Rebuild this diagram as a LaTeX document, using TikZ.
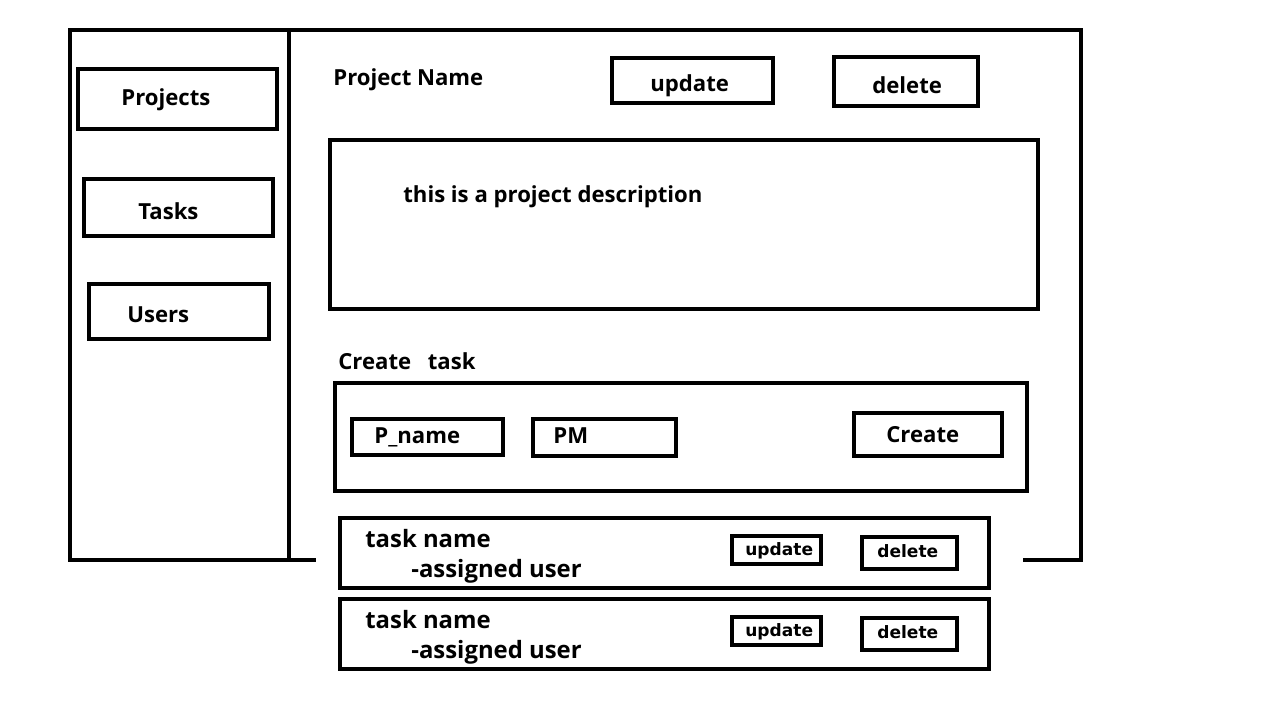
\documentclass[tikz,border=0pt]{standalone}
\usepackage{fontspec}
\setmainfont{Open Sans}
\newfontfamily\btnfont{DejaVu Sans}
\usepackage{tikz}
\usetikzlibrary{positioning}

\begin{document}
\begin{tikzpicture}[x=0.02cm,y=-0.02cm,
                    frame/.style={line width=2.6pt,line cap=rect},
                    box/.style={draw,line width=2.6pt,inner sep=0pt},
                    txt/.style={inner sep=0pt,anchor=base west,font=\fontsize{12.6}{15}\selectfont\bfseries},
                    row txt/.style={txt,font=\fontsize{13.6}{16}\selectfont\bfseries},
                    small txt/.style={inner sep=0pt,anchor=base west,font=\btnfont\fontsize{9.7}{11}\selectfont\bfseries}]

 \useasboundingbox (0,0) rectangle (1265,701);

 % outer frame and sidebar
 \draw[frame] (314,560) -- (70,560) -- (70,30) -- (1081,30) -- (1081,560) -- (1025,560);
 \draw[frame] (289,30) -- (289,560);

 % sidebar menu
 \node[box,minimum width=199*0.02cm,minimum height=60*0.02cm] (projects) at (177.5,99) {};
 \node[txt] (projects lbl) at (121,105) {Projects};
 \node[box,minimum width=189*0.02cm,minimum height=57*0.02cm] (tasks) at (178.5,207.5) {};
 \node[txt] (tasks lbl) at (138,219) {Tasks};
 \node[box,minimum width=180*0.02cm,minimum height=55*0.02cm] (users) at (179,311.5) {};
 \node[txt] (users lbl) at (127,322) {Users};

 % project header
 \node[txt] (pname) at (333,85) {Project Name};
 \node[box,minimum width=161*0.02cm,minimum height=45*0.02cm] (update) at (692.5,80.5) {};
 \node[txt] (update lbl) at (650,91) {update};
 \node[box,minimum width=144*0.02cm,minimum height=49*0.02cm] (delete) at (906,81.5) {};
 \node[txt] (delete lbl) at (872,93) {delete};

 % description
 \node[box,minimum width=708*0.02cm,minimum height=169*0.02cm] (desc) at (684,224.5) {};
 \node[txt] (desc lbl) at (403,202) {this is a project description};

 % create task form
 \node[txt] (create lbl) at (338,369) {Create\hspace{0.75em}task};
 \node[box,minimum width=692*0.02cm,minimum height=108*0.02cm] (form) at (681,437) {};
 \node[box,minimum width=151*0.02cm,minimum height=36*0.02cm] (pfield) at (427.5,437) {};
 \node[txt] (pfield lbl) at (374,443) {P\_name};
 \node[box,minimum width=143*0.02cm,minimum height=37*0.02cm] (pmfield) at (604.5,437.5) {};
 \node[txt] (pmfield lbl) at (553,443) {PM};
 \node[box,minimum width=148*0.02cm,minimum height=43*0.02cm] (create) at (928,434.5) {};
 \node[txt] (create btn lbl) at (886,442) {Create};

 % task list
 \foreach \i/\y in {1/518,2/599} {
   \node[box,minimum width=649*0.02cm,minimum height=70*0.02cm] (task\i) at (664.5,\y+35) {};
   \node[row txt] (task\i name) at (365,\y+29) {task name};
   \node[row txt] (task\i user) at (411,\y+59) {-assigned user};
   \node[box,minimum width=89*0.02cm,minimum height=28*0.02cm] (task\i upd) at (776.5,\y+32) {};
   \node[small txt] (task\i upd lbl) at (745,\y+37) {update};
   \node[box,minimum width=95*0.02cm,minimum height=32*0.02cm] (task\i del) at (909.5,\y+35) {};
   \node[small txt] (task\i del lbl) at (877,\y+39.5) {delete};
 }

\end{tikzpicture}
\end{document}
